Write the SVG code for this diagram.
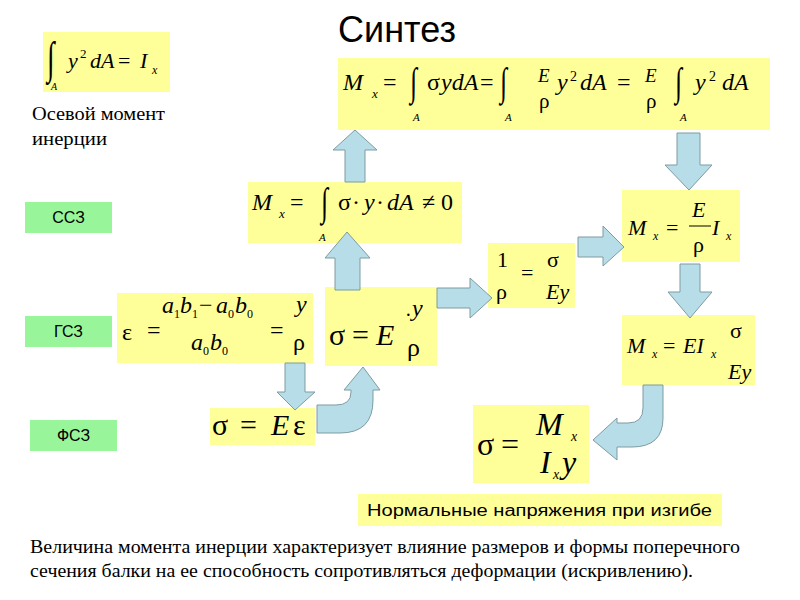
<svg xmlns="http://www.w3.org/2000/svg" width="800" height="600" viewBox="0 0 800 600">
<style>
.y{fill:#FFFF99}
.g{fill:#99F599}
.ar{fill:#B7DEE8;stroke:#7E9BA2;stroke-width:1}
.m{font-style:italic;fill:#000}
.u{fill:#000}
.s{font-family:Liberation Sans,Arial,sans-serif;fill:#000}
.t{fill:#000;font-size:18px}
</style>
<rect width="800" height="600" fill="#fff"/>
<text class="s" x="397" y="42" font-size="36" text-anchor="middle">Синтез</text>

<g font-family="Liberation Serif, Times New Roman, DejaVu Serif, serif">
<g id="n-inertia">
<rect class="y" x="43" y="32" width="127" height="60"/>
<text class="u" font-size="30" transform="translate(47,73) scale(0.9,1.5)">∫</text>
<text class="m" x="51" y="90" font-size="10">A</text>
<text class="m" x="68" y="68" font-size="22">y</text>
<text class="u" x="80" y="58" font-size="13">2</text>
<text class="m" x="90" y="68" font-size="22">dA</text>
<text class="u" x="118" y="68" font-size="22">=</text>
<text class="m" x="140" y="68" font-size="22">I</text>
<text class="m" x="152" y="74" font-size="12">x</text>
</g>
<g id="n-inertia-label">
<text class="t" x="32" y="120" textLength="133" lengthAdjust="spacingAndGlyphs">Осевой момент</text>
<text class="t" x="32" y="145" textLength="75" lengthAdjust="spacingAndGlyphs">инерции</text>
</g>

<g id="n-big">
<rect class="y" x="338" y="58" width="432" height="72"/>
<text class="m" x="343" y="90" font-size="24">M</text>
<text class="m" x="372" y="98" font-size="13">x</text>
<text class="u" x="383" y="90" font-size="24">=</text>
<text class="u" font-size="28" transform="translate(410,95) scale(0.9,1.4)">∫</text>
<text class="m" x="413" y="121" font-size="11">A</text>
<text class="u" x="427" y="90" font-size="24">σ</text>
<text class="m" x="441" y="90" font-size="24">ydA</text>
<text class="u" x="480" y="90" font-size="24">=</text>
<text class="u" font-size="28" transform="translate(500,95) scale(0.9,1.4)">∫</text>
<text class="m" x="505" y="121" font-size="11">A</text>
<text class="m" x="538" y="82" font-size="19">E</text>
<text class="u" x="539" y="108" font-size="21">ρ</text>
<text class="m" x="557" y="90" font-size="24">y</text>
<text class="u" x="570" y="81" font-size="14">2</text>
<text class="m" x="580" y="90" font-size="24">dA</text>
<text class="u" x="617" y="90" font-size="24">=</text>
<text class="m" x="645" y="82" font-size="19">E</text>
<text class="u" x="646" y="108" font-size="21">ρ</text>
<text class="u" font-size="28" transform="translate(675,95) scale(0.9,1.4)">∫</text>
<text class="m" x="680" y="121" font-size="11">A</text>
<text class="m" x="695" y="90" font-size="24">y</text>
<text class="u" x="709" y="81" font-size="14">2</text>
<text class="m" x="722" y="90" font-size="24">dA</text>
</g>

<g id="n-mx-int">
<rect class="y" x="248" y="182" width="214" height="61"/>
<text class="m" x="252" y="210" font-size="24">M</text>
<text class="m" x="279" y="218" font-size="13">x</text>
<text class="u" x="290" y="210" font-size="24">=</text>
<text class="u" font-size="28" transform="translate(321,215) scale(0.9,1.4)">∫</text>
<text class="m" x="319" y="241" font-size="11">A</text>
<text class="u" x="338" y="210" font-size="24">σ</text>
<text class="u" x="352" y="210" font-size="24">·</text>
<text class="m" x="364" y="210" font-size="24">y</text>
<text class="u" x="376" y="210" font-size="24">·</text>
<text class="m" x="387" y="210" font-size="24">dA</text>
<text class="u" x="422" y="210" font-size="24">≠</text>
<text class="u" x="441" y="210" font-size="24">0</text>
</g>

<g id="n-eps">
<rect class="y" x="117" y="293" width="196" height="70"/>
<text class="u" x="122" y="340" font-size="24">ε</text>
<text class="u" x="147" y="338" font-size="24">=</text>
<text class="m" x="162" y="313" font-size="24">a</text>
<text class="u" x="174" y="318" font-size="12">1</text>
<text class="m" x="180" y="313" font-size="24">b</text>
<text class="u" x="192" y="318" font-size="12">1</text>
<text class="u" x="199" y="313" font-size="24">−</text>
<text class="m" x="216" y="313" font-size="24">a</text>
<text class="u" x="228" y="318" font-size="12">0</text>
<text class="m" x="235" y="313" font-size="24">b</text>
<text class="u" x="247" y="318" font-size="12">0</text>
<text class="m" x="191" y="350" font-size="24">a</text>
<text class="u" x="203" y="355" font-size="12">0</text>
<text class="m" x="210" y="350" font-size="24">b</text>
<text class="u" x="222" y="355" font-size="12">0</text>
<text class="u" x="270" y="338" font-size="24">=</text>
<text class="m" x="296" y="312" font-size="24">y</text>
<text class="u" x="293" y="350" font-size="24">ρ</text>
</g>

<g id="n-sigma-ey">
<rect class="y" x="325" y="287" width="112" height="79"/>
<text class="u" x="329" y="345" font-size="30">σ</text>
<text class="u" x="352" y="345" font-size="30">=</text>
<text class="m" x="376" y="345" font-size="30">E</text>
<text class="u" x="405" y="322" font-size="20">·</text>
<text class="m" x="412" y="316" font-size="24">y</text>
<text class="u" x="407" y="356" font-size="26">ρ</text>
</g>

<g id="n-inv-rho">
<rect class="y" x="488" y="243" width="87" height="65"/>
<text class="u" x="497" y="267" font-size="22">1</text>
<text class="u" x="521" y="280" font-size="22">=</text>
<text class="u" x="547" y="267" font-size="22">σ</text>
<text class="u" x="496" y="299" font-size="22">ρ</text>
<text class="m" x="546" y="299" font-size="22">Ey</text>
</g>

<g id="n-mx-e-rho">
<rect class="y" x="622" y="190" width="118" height="72"/>
<text class="m" x="628" y="235" font-size="22">M</text>
<text class="m" x="653" y="240" font-size="12">x</text>
<text class="u" x="666" y="235" font-size="22">=</text>
<text class="m" x="692" y="217" font-size="22">E</text>
<line x1="689" y1="226" x2="711" y2="226" stroke="#000" stroke-width="1"/>
<text class="u" x="693" y="252" font-size="22">ρ</text>
<text class="m" x="712" y="235" font-size="22">I</text>
<text class="m" x="726" y="240" font-size="12">x</text>
</g>

<g id="n-mx-eix">
<rect class="y" x="622" y="315" width="133" height="70"/>
<text class="m" x="627" y="353" font-size="22">M</text>
<text class="m" x="652" y="358" font-size="12">x</text>
<text class="u" x="663" y="353" font-size="22">=</text>
<text class="m" x="683" y="353" font-size="22">EI</text>
<text class="m" x="711" y="358" font-size="12">x</text>
<text class="u" x="730" y="338" font-size="22">σ</text>
<text class="m" x="728" y="379" font-size="22">Ey</text>
</g>

<g id="n-sigma-eeps">
<rect class="y" x="210" y="408" width="105" height="37"/>
<text class="u" x="212" y="435" font-size="30">σ</text>
<text class="u" x="240" y="435" font-size="30">=</text>
<text class="m" x="271" y="435" font-size="30">E</text>
<text class="u" x="293" y="435" font-size="30">ε</text>
</g>

<g id="n-sigma-final">
<rect class="y" x="473" y="405" width="116" height="78"/>
<text class="u" x="477" y="455" font-size="32">σ</text>
<text class="u" x="501" y="455" font-size="32">=</text>
<text class="m" x="536" y="435" font-size="32">M</text>
<text class="m" x="571" y="441" font-size="14">x</text>
<text class="m" x="540" y="473" font-size="32">I</text>
<text class="m" x="553" y="479" font-size="14">x</text>
<text class="m" x="562" y="473" font-size="32">y</text>
</g>

<g id="caption">
<text class="t" x="30" y="553" textLength="710" lengthAdjust="spacingAndGlyphs">Величина момента инерции характеризует влияние размеров и формы поперечного</text>
<text class="t" x="30" y="577" textLength="663" lengthAdjust="spacingAndGlyphs">сечения балки на ее способность сопротивляться деформации (искривлению).</text>
</g>
</g>

<g id="n-normal">
<rect class="y" x="358" y="494" width="364" height="32"/>
<text class="s" x="367" y="516" font-size="16" textLength="345" lengthAdjust="spacingAndGlyphs">Нормальные напряжения при изгибе</text>
</g>

<g id="n-ssz"><rect class="g" x="25" y="202" width="87" height="31"/><text class="s" x="68.5" y="223" font-size="16" text-anchor="middle">ССЗ</text></g>
<g id="n-gsz"><rect class="g" x="25" y="316" width="87" height="31"/><text class="s" x="68.5" y="337" font-size="16" text-anchor="middle">ГСЗ</text></g>
<g id="n-fsz"><rect class="g" x="30" y="420" width="87" height="31"/><text class="s" x="73.5" y="441" font-size="16" text-anchor="middle">ФСЗ</text></g>

<g id="connectors">
<path class="ar" d="M345,182 L345,150 L333,150 L355,130 L377,150 L365,150 L365,182 Z"/>
<path class="ar" d="M335,290 L335,258 L325,258 L347,232 L370,258 L360,258 L360,290 Z"/>
<path class="ar" d="M437,288 L470,288 L470,278 L492,298 L470,318 L470,308 L437,308 Z"/>
<path class="ar" d="M578,237 L603,237 L603,226 L624,247 L603,266 L603,257 L578,257 Z"/>
<path class="ar" d="M677,133 L677,165 L665,165 L689,190 L712,165 L700,165 L700,133 Z"/>
<path class="ar" d="M680,264 L680,292 L668,292 L690,318 L712,292 L700,292 L700,264 Z"/>
<path class="ar" d="M285,363 L285,392 L277,392 L295,410 L315,392 L305,392 L305,363 Z"/>
<path class="ar" d="M317,405 L336,405 Q351,405 351,392 L351,390 L344,390 L363,367 L380,390 L373,390 L373,400 Q373,433 340,433 L317,433 Z"/>
<path class="ar" d="M643,385 L643,408 Q643,423 628,423 L617,423 L617,418 L593,440 L617,460 L617,447 L632,447 Q663,447 663,418 L663,385 Z"/>
</g>
</svg>
